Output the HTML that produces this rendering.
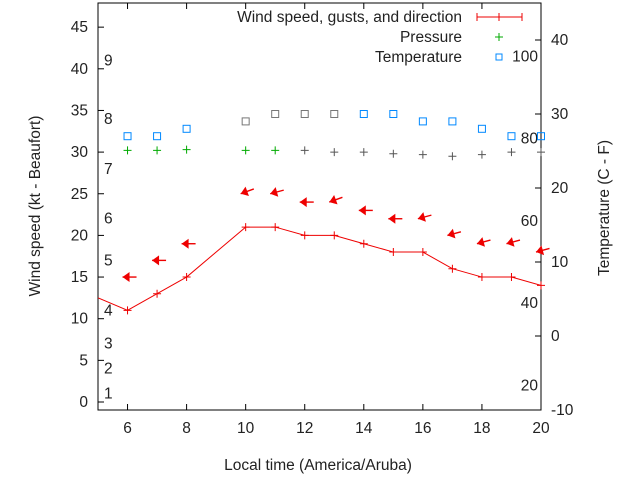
<!DOCTYPE html>
<html><head><meta charset="utf-8"><style>
body{margin:0;background:#fff;}
svg text{font-family:"Liberation Sans",sans-serif;font-size:15.5px;fill:#222;}
</style></head><body>
<svg id="chart" width="640" height="480" xmlns="http://www.w3.org/2000/svg">
<g id="axes"></g><g id="marks"></g>
</svg>
<script>
const hours=[6,7,8,10,11,12,13,14,15,16,17,18,19,20];
const windLineHours=[5,6,7,8,10,11,12,13,14,15,16,17,18,19,20];
const windSpeed=[12.5,11,13,15,21,21,20,20,19,18,18,16,15,15,14];
const gusts=[15,17,19,25,25,24,24,23,22,22,20,19,19,18];
const gustTilt=[0,0,0,20,15,0,20,0,0,15,15,15,15,15];
const pressure=[30.2,30.2,30.3,30.2,30.2,30.2,30,30,29.8,29.7,29.5,29.7,30,30];
const tempC=[27,27,28,29,30,30,30,30,30,29,29,28,27,27];
const xTicks=[6,8,10,12,14,16,18,20];
const yTicks=[0,5,10,15,20,25,30,35,40,45];
const y2Ticks=[-10,0,10,20,30,40];
const beaufortLabels=["1","2","3","4","5","6","7","8","9"];
const beaufortKt=[1,4,7,11,17,22,28,34,41];
const fLabels=[20,40,60,80,100];

const L=98,R=541,T=3,B=410;
const X=v=>L+(v-5)*(R-L)/15;
const Y=v=>402-v*8.33;
const Y2=v=>410-(v+10)*7.4;
const NS="http://www.w3.org/2000/svg";
const ax=document.getElementById('axes'),mk=document.getElementById('marks');
function el(p,t,a,txt){const e=document.createElementNS(NS,t);for(const k in a)e.setAttribute(k,a[k]);if(txt!=null)e.textContent=txt;p.appendChild(e);return e;}

let e=el(ax,'rect',{x:L,y:T,width:R-L,height:B-T,fill:'none',stroke:'#000','stroke-width':1});

xTicks.forEach(v=>{
 el(ax,'line',{x1:X(v),x2:X(v),y1:B,y2:B-6,stroke:'#000'});
 el(ax,'line',{x1:X(v),x2:X(v),y1:T,y2:T+6,stroke:'#000'});
 const t=el(ax,'text',{x:X(v),y:B+23,'text-anchor':'middle'},v);
 
});
yTicks.forEach(v=>{
 el(ax,'line',{x1:L,x2:L+6,y1:Y(v),y2:Y(v),stroke:'#000'});
 const t=el(ax,'text',{x:L-10,y:Y(v)+5,'text-anchor':'end'},v);
 
});
y2Ticks.forEach(v=>{
 el(ax,'line',{x1:R,x2:R-6,y1:Y2(v),y2:Y2(v),stroke:'#000'});
 const t=el(ax,'text',{x:R+10,y:Y2(v)+5},v);
 
});
beaufortLabels.forEach((s,i)=>{
 const t=el(ax,'text',{x:104,y:Y(beaufortKt[i])+5},s);
 
});
fLabels.forEach(f=>{
 const t=el(ax,'text',{x:538,y:Y2((f-32)*5/9)+5,'text-anchor':'end'},f);
 
});
e=el(ax,'text',{x:318,y:470,'text-anchor':'middle'},'Local time (America/Aruba)');

e=el(ax,'text',{x:40,y:206,'text-anchor':'middle',transform:'rotate(-90 40 206)'},'Wind speed (kt - Beaufort)');

e=el(ax,'text',{x:609,y:208,'text-anchor':'middle',transform:'rotate(-90 609 208)'},'Temperature (C - F)');


const cp=el(mk,'clipPath',{id:'clp'});el(cp,'rect',{x:L,y:T,width:R-L,height:B-T});
e=el(mk,'polyline',{points:windLineHours.map((h,i)=>X(h)+','+Y(windSpeed[i])).join(' '),fill:'none',stroke:'#e00','stroke-width':1,'clip-path':'url(#clp)'});

windLineHours.forEach((h,i)=>{if(h<6)return;const x=X(h),y=Y(windSpeed[i]);
 const g=el(mk,'path',{d:`M${x-4},${y}H${x+4}M${x},${y-4}V${y+4}`,stroke:'#e00'});
 });
hours.forEach((h,i)=>{const x=X(h)-5,y=Y(gusts[i]);
 const g=el(mk,'g',{transform:`translate(${x},${y}) rotate(${-gustTilt[i]})`});
 
 el(g,'line',{x1:0,y1:0,x2:14,y2:0,stroke:'#e00','stroke-width':1.4});
 el(g,'polygon',{points:'0,0 7,-5 7,5',fill:'#e00'});});
hours.forEach((h,i)=>{const x=X(h),y=Y(pressure[i]);
 const g=el(mk,'path',{d:`M${x-4},${y}H${x+4}M${x},${y-4}V${y+4}`,stroke:i>=5?'#555':'#0a0'});
 });
hours.forEach((h,i)=>{const x=X(h),y=Y2(tempC[i]);
 const g=el(mk,'rect',{x:x-3.5,y:y-3.5,width:7,height:7,fill:'none',stroke:i>=3&&i<=6?'#777':'#08f'});
 });
const lg=el(mk,'g',{});
el(lg,'text',{x:462,y:22,'text-anchor':'end'},'Wind speed, gusts, and direction');
el(lg,'path',{d:'M477,17H522M477,13V21M499,13V21M522,13V21',stroke:'#e00',fill:'none'});
el(lg,'text',{x:462,y:42,'text-anchor':'end'},'Pressure');
el(lg,'path',{d:'M495,37H503M499,33V41',stroke:'#0a0'});
el(lg,'text',{x:462,y:62,'text-anchor':'end'},'Temperature');
el(lg,'rect',{x:496,y:54,width:6,height:6,fill:'none',stroke:'#08f'});
</script>
</body></html>
